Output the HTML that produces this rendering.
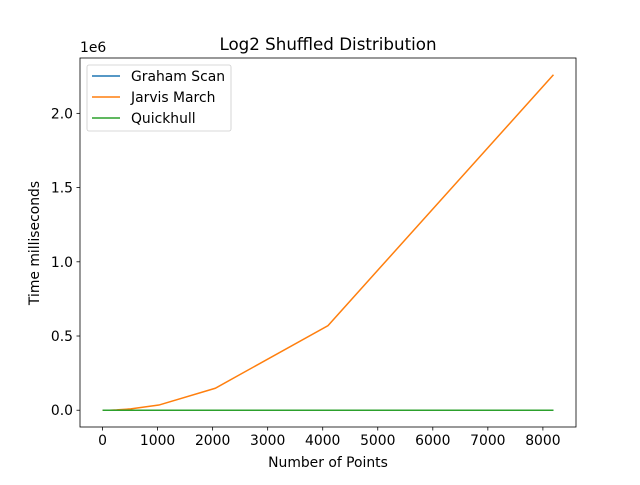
<!DOCTYPE html>
<html><head><meta charset="utf-8"><style>
body{margin:0;background:#fff}
svg text{font-family:"DejaVu Sans","Liberation Sans",sans-serif;fill:#000}
</style></head><body>
<svg id="c" width="640" height="480" xmlns="http://www.w3.org/2000/svg"></svg>
<script>
const points=[1,2,4,8,16,32,64,128,256,512,1024,2048,4096,8192];
const graham=[0,0,0,0,0,0,0,0,0,0,0,0,0,0];
const jarvis=[0,0,0,0,0,0,0,0,2000,9000,35000,148000,570000,2260000];
const quick=[0,0,0,0,0,0,0,0,0,0,0,0,0,0];
const xTicks=[0,1000,2000,3000,4000,5000,6000,7000,8000];
const yTicks=[0,0.5,1.0,1.5,2.0];
const yTickLabels=["0.0","0.5","1.0","1.5","2.0"];
const L=80,R=576,T=58,B=427;
const xmin=-409.6,xmax=8601.6,ymin=-113000,ymax=2373000;
const X=v=>L+(v-xmin)/(xmax-xmin)*(R-L);
const Y=v=>B-(v-ymin)/(ymax-ymin)*(B-T);
const svg=document.getElementById('c');
const NS="http://www.w3.org/2000/svg";
function mk(t,a,txt){const e=document.createElementNS(NS,t);for(const k in a)e.setAttribute(k,a[k]);if(txt!==undefined)e.textContent=txt;svg.appendChild(e);return e;}
xTicks.forEach(v=>{const x=X(v);
let e=mk('line',{x1:x,x2:x,y1:B,y2:B+3.5,stroke:'#000','stroke-width':0.8});


e=mk('text',{x:x,y:B+18,'font-size':13.9,'text-anchor':'middle'},String(v));

});
yTicks.forEach((v,i)=>{const y=Y(v*1e6);
let e=mk('line',{x1:L-3.5,x2:L,y1:y,y2:y,stroke:'#000','stroke-width':0.8});


e=mk('text',{x:L-7,y:y+5,'font-size':13.9,'text-anchor':'end'},yTickLabels[i]);

});
const series=[[graham,'#1f77b4','graham-scan-line'],[jarvis,'#ff7f0e','jarvis-march-line'],[quick,'#2ca02c','quickhull-line']];
series.forEach(s=>{const d=points.map((p,i)=>(i?'L':'M')+X(p)+','+Y(s[0][i])).join(' ');
const e=mk('path',{d:d,fill:'none',stroke:s[1],'stroke-width':1.5});

});
let f=mk('rect',{x:L,y:T,width:R-L,height:B-T,fill:'none',stroke:'#000','stroke-width':0.8});


</script>
<svg width="640" height="480" style="position:absolute;left:0;top:0" xmlns="http://www.w3.org/2000/svg">
<text x="328" y="50" font-size="16.7" text-anchor="middle">Log2 Shuffled Distribution</text>
<text x="80" y="52" font-size="13.9">1e6</text>
<text x="328" y="467" font-size="13.9" text-anchor="middle">Number of Points</text>
<text x="39" y="243" font-size="13.9" text-anchor="middle" transform="rotate(-90 39 243)">Time milliseconds</text>
<g>
<rect x="87" y="65" width="144" height="66" rx="2" fill="#fff" stroke="#ccc" stroke-width="0.8"/>
<line x1="92" x2="120" y1="76" y2="76" stroke="#1f77b4" stroke-width="1.5"/>
<text x="131" y="81" font-size="13.9">Graham Scan</text>
<line x1="92" x2="120" y1="97" y2="97" stroke="#ff7f0e" stroke-width="1.5"/>
<text x="131" y="102" font-size="13.9">Jarvis March</text>
<line x1="92" x2="120" y1="118" y2="118" stroke="#2ca02c" stroke-width="1.5"/>
<text x="131" y="123" font-size="13.9">Quickhull</text>
</g>
</svg>
</body></html>
